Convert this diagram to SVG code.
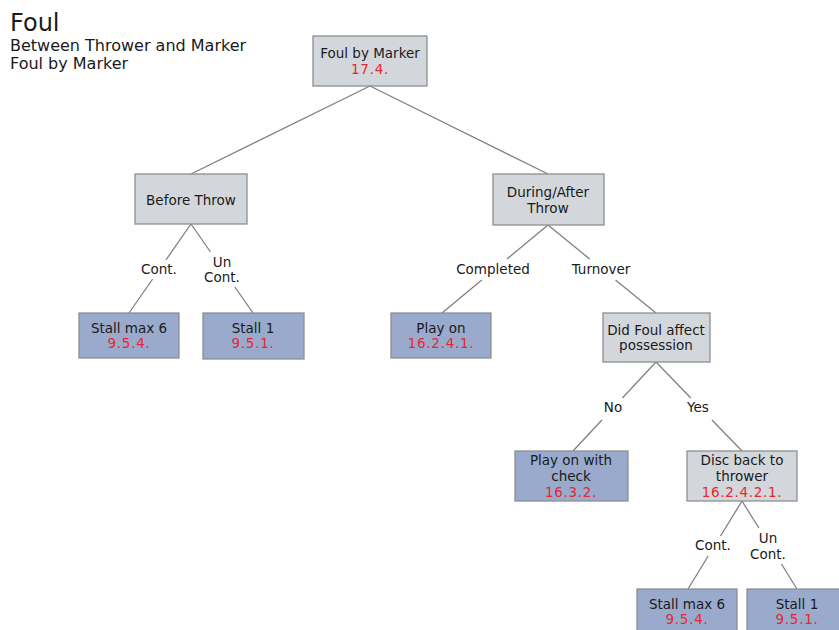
<svg xmlns="http://www.w3.org/2000/svg" width="839" height="630" viewBox="0 0 839 630">
<style>
text{font-family:"DejaVu Sans","Noto Sans",sans-serif;fill:#1a1a1a;}
.t{font-size:13.5px;text-anchor:middle;}
.r{fill:#e8262d;letter-spacing:0.7px;}
.g{fill:#d3d7db;stroke:#8c8f92;stroke-width:1.3;}
.b{fill:#99aacd;stroke:#8c8f92;stroke-width:1.3;}
.c line{stroke:#808080;stroke-width:1.3;}
</style>
<rect width="839" height="630" fill="#fff"/>
<text x="10" y="31" font-size="24">Foul</text>
<text x="10" y="51" font-size="16">Between Thrower and Marker</text>
<text x="10" y="69" font-size="16">Foul by Marker</text>
<g class="c" id="connectors">
<line x1="370" y1="86" x2="191" y2="174"/>
<line x1="370" y1="86" x2="548" y2="174"/>
<line x1="191" y1="224" x2="165.9" y2="260"/><line x1="152.7" y1="279" x2="129" y2="313"/>
<line x1="191" y1="224" x2="210.5" y2="252"/><line x1="234.9" y1="287" x2="253" y2="313"/>
<line x1="548" y1="225" x2="507" y2="259"/><line x1="481.8" y1="280" x2="442" y2="313"/>
<line x1="548" y1="225" x2="589.7" y2="259"/><line x1="615.5" y1="280" x2="656" y2="313"/>
<line x1="656" y1="362" x2="622.4" y2="398"/><line x1="601.9" y1="420" x2="573" y2="451"/>
<line x1="656" y1="362" x2="690.8" y2="398"/><line x1="712" y1="420" x2="742" y2="451"/>
<line x1="742" y1="501" x2="720.5" y2="536"/><line x1="708.2" y1="556" x2="688" y2="589"/>
<line x1="742" y1="501" x2="758.9" y2="528"/><line x1="781.4" y1="564" x2="797" y2="589"/>
<text class="t" x="159" y="274">Cont.</text>
<text class="t" x="222" y="267">Un</text><text class="t" x="222" y="282">Cont.</text>
<text class="t" x="493" y="274">Completed</text>
<text class="t" x="601" y="274">Turnover</text>
<text class="t" x="613" y="412">No</text>
<text class="t" x="698" y="412">Yes</text>
<text class="t" x="713" y="550">Cont.</text>
<text class="t" x="768" y="543">Un</text><text class="t" x="768" y="559">Cont.</text>
</g>
<g id="n-foul-by-marker"><rect class="g" x="313" y="36" width="114" height="50"/><text class="t" x="370" y="58">Foul by Marker</text><text class="t r" x="370" y="74">17.4.</text></g>
<g id="n-before-throw"><rect class="g" x="135" y="174" width="112" height="50"/><text class="t" x="191" y="205">Before Throw</text></g>
<g id="n-during-after"><rect class="g" x="493" y="174" width="111" height="51"/><text class="t" x="548" y="197">During/After</text><text class="t" x="548" y="213">Throw</text></g>
<g id="n-stall6-a"><rect class="b" x="79" y="313" width="100" height="45"/><text class="t" x="129" y="333">Stall max 6</text><text class="t r" x="129" y="348">9.5.4.</text></g>
<g id="n-stall1-a"><rect class="b" x="203" y="313" width="101" height="46"/><text class="t" x="253" y="333">Stall 1</text><text class="t r" x="253" y="348">9.5.1.</text></g>
<g id="n-play-on"><rect class="b" x="391" y="313" width="100" height="45"/><text class="t" x="441" y="333">Play on</text><text class="t r" x="441" y="348">16.2.4.1.</text></g>
<g id="n-did-foul"><rect class="g" x="603" y="313" width="107" height="49"/><text class="t" x="656" y="335">Did Foul affect</text><text class="t" x="656" y="350">possession</text></g>
<g id="n-play-on-check"><rect class="b" x="515" y="451" width="113" height="50"/><text class="t" x="571" y="465">Play on with</text><text class="t" x="571" y="481">check</text><text class="t r" x="571" y="497">16.3.2.</text></g>
<g id="n-disc-back"><rect class="g" x="687" y="451" width="110" height="50"/><text class="t" x="742" y="465">Disc back to</text><text class="t" x="742" y="481">thrower</text><text class="t r" x="742" y="497">16.2.4.2.1.</text></g>
<g id="n-stall6-b"><rect class="b" x="637" y="589" width="100" height="46"/><text class="t" x="687" y="609">Stall max 6</text><text class="t r" x="687" y="624">9.5.4.</text></g>
<g id="n-stall1-b"><rect class="b" x="747" y="589" width="95" height="46"/><text class="t" x="797" y="609">Stall 1</text><text class="t r" x="797" y="624">9.5.1.</text></g>
</svg>
